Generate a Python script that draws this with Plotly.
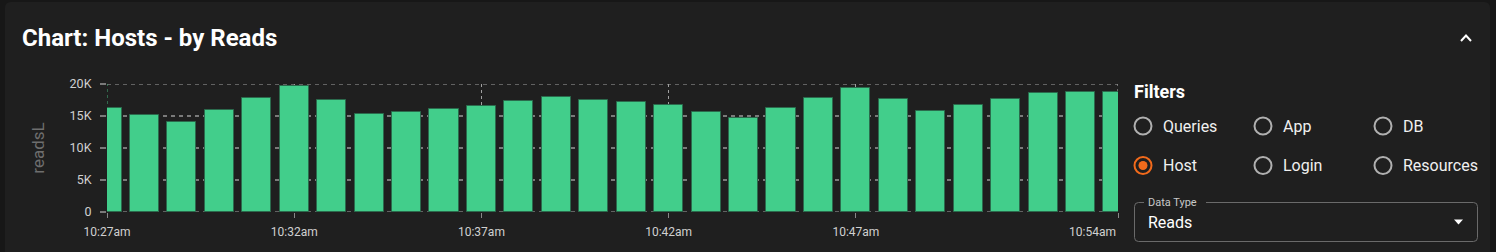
import plotly.graph_objects as go

# ---------------- data ----------------
times = ["10:27", "10:28", "10:29", "10:30", "10:31", "10:32", "10:33", "10:34",
         "10:35", "10:36", "10:37", "10:38", "10:39", "10:40", "10:41", "10:42",
         "10:43", "10:44", "10:45", "10:46", "10:47", "10:48", "10:49", "10:50",
         "10:51", "10:52", "10:53", "10:54"]
reads = [16240, 15140, 13990, 15870, 17750, 19690, 17440, 15250,
         15670, 16080, 16550, 17280, 17960, 17550, 17130, 16660,
         15670, 14620, 16240, 17860, 19430, 17600, 15720, 16710,
         17650, 18590, 18690, 18800]
tick_times = ["10:27", "10:32", "10:37", "10:42", "10:47", "10:54"]
tick_labels = ["10:27am", "10:32am", "10:37am", "10:42am", "10:47am", "10:54am"]
y_ticks = [0, 5000, 10000, 15000, 20000]
y_tick_labels = ["0", "5K", "10K", "15K", "20K"]

filter_options = [["Queries", "App", "DB"], ["Host", "Login", "Resources"]]
selected_filter = "Host"

# ---------------- layout constants ----------------
W, H = 1496, 252
L, R, T, B = 107, 1118, 84, 212
FONT = "Roboto"
BG_OUT = "#171717"
BG_PANEL = "#1f1f1f"
BAR = "#42CE8B"
BAR_LINE = "#2b6b4d"
ORANGE = "#F26A1B"
HGRID = "#7a7a7a"
VGRID = "#a0a0a0"


def to_min(t):
    h, m = t.split(":")
    return int(h) * 60 + int(m)


base = to_min(times[0])
xs = [to_min(t) - base for t in times]
tick_x = [to_min(t) - base for t in tick_times]
x_lo, x_hi = tick_x[0], tick_x[-1]
y_lo, y_hi = y_ticks[0], y_ticks[-1]


def px(x):
    return (x - L) / (R - L)


def py(y):
    return (B - y) / (B - T)


fig = go.Figure()
fig.add_trace(go.Bar(
    x=xs, y=reads, width=0.78,
    marker=dict(color=BAR, line=dict(color=BAR_LINE, width=1)),
    hoverinfo="skip",
))

shapes = []
annotations = []


def rrect(x0, y0, x1, y1, r):
    p = (f"M {px(x0 + r)},{py(y0)} L {px(x1 - r)},{py(y0)} Q {px(x1)},{py(y0)} {px(x1)},{py(y0 + r)} "
         f"L {px(x1)},{py(y1 - r)} Q {px(x1)},{py(y1)} {px(x1 - r)},{py(y1)} "
         f"L {px(x0 + r)},{py(y1)} Q {px(x0)},{py(y1)} {px(x0)},{py(y1 - r)} "
         f"L {px(x0)},{py(y0 + r)} Q {px(x0)},{py(y0)} {px(x0 + r)},{py(y0)} Z")
    return p


shapes.append(dict(type="path", xref="paper", yref="paper", path=rrect(5, 2, 1490, 262, 6),
                   fillcolor=BG_PANEL, line=dict(width=0), layer="below"))

# edge gridlines (plotly omits grid lines lying on the range ends)
for yv in (y_lo, y_hi):
    shapes.append(dict(type="line", xref="x", yref="y", x0=x_lo, x1=x_hi, y0=yv, y1=yv,
                       line=dict(color=HGRID, width=1.6, dash="4px,4px"), layer="below"))
shapes.append(dict(type="line", xref="x", yref="y", x0=x_lo, x1=x_lo, y0=y_lo, y1=y_hi,
                   line=dict(color="#3f9a6c", width=1.2, dash="3px,3px"), layer="below"))
shapes.append(dict(type="line", xref="x", yref="y", x0=x_hi, x1=x_hi, y0=y_lo, y1=y_hi,
                   line=dict(color=VGRID, width=1.2, dash="3px,3px"), layer="below"))

# title
annotations.append(dict(text="<b>Chart: Hosts - by Reads</b>", xref="paper", yref="paper",
                        x=px(20), y=py(38), xanchor="left", yanchor="middle", showarrow=False,
                        font=dict(family=FONT, size=24, color="#ffffff")))
# chevron
shapes.append(dict(type="path", xref="paper", yref="paper",
                   path=f"M {px(1461)},{py(41)} L {px(1466)},{py(35.5)} L {px(1471)},{py(41)}",
                   line=dict(color="#ffffff", width=2)))

# last x tick label (right aligned to plot edge)
annotations.append(dict(text=tick_labels[-1], xref="x", yref="paper", x=tick_x[-1], y=py(232),
                        xanchor="right", yanchor="middle", showarrow=False,
                        font=dict(family=FONT, size=12, color="#d0d0d0")))

# Filters
annotations.append(dict(text="<b>Filters</b>", xref="paper", yref="paper", x=px(1132), y=py(91),
                        xanchor="left", yanchor="middle", showarrow=False,
                        font=dict(family=FONT, size=18, color="#ffffff")))
col_x = [1143, 1263, 1383]
row_y = [126, 165.5]
for ri, row in enumerate(filter_options):
    for ci, name in enumerate(row):
        cx, cy = col_x[ci], row_y[ri]
        sel = name == selected_filter
        r = 8.5
        shapes.append(dict(type="circle", xref="paper", yref="paper",
                           x0=px(cx - r), x1=px(cx + r), y0=py(cy + r), y1=py(cy - r),
                           line=dict(color=ORANGE if sel else "#b0b0b0", width=2),
                           fillcolor="rgba(0,0,0,0)"))
        if sel:
            r2 = 4.5
            shapes.append(dict(type="circle", xref="paper", yref="paper",
                               x0=px(cx - r2), x1=px(cx + r2), y0=py(cy + r2), y1=py(cy - r2),
                               line=dict(width=0), fillcolor=ORANGE))
        annotations.append(dict(text=name, xref="paper", yref="paper", x=px(cx + 18), y=py(cy),
                                xanchor="left", yanchor="middle", showarrow=False,
                                font=dict(family=FONT, size=16, color="#f0f0f0")))

# Data type select box
bx0, by0, bx1, by1, br = 1134.5, 202.5, 1477.5, 241.5, 4
gap0, gap1 = 1144, 1206
sel_path = (f"M {px(gap0)},{py(by0)} L {px(bx0 + br)},{py(by0)} Q {px(bx0)},{py(by0)} {px(bx0)},{py(by0 + br)} "
            f"L {px(bx0)},{py(by1 - br)} Q {px(bx0)},{py(by1)} {px(bx0 + br)},{py(by1)} "
            f"L {px(bx1 - br)},{py(by1)} Q {px(bx1)},{py(by1)} {px(bx1)},{py(by1 - br)} "
            f"L {px(bx1)},{py(by0 + br)} Q {px(bx1)},{py(by0)} {px(bx1 - br)},{py(by0)} L {px(gap1)},{py(by0)}")
shapes.append(dict(type="path", xref="paper", yref="paper", path=sel_path,
                   line=dict(color="#6a6a6a", width=1)))
annotations.append(dict(text="Data Type", xref="paper", yref="paper", x=px(1146), y=py(202),
                        xanchor="left", yanchor="middle", showarrow=False,
                        font=dict(family=FONT, size=11, color="#c8c8c8")))
annotations.append(dict(text="Reads", xref="paper", yref="paper", x=px(1146), y=py(222),
                        xanchor="left", yanchor="middle", showarrow=False,
                        font=dict(family=FONT, size=16, color="#ffffff")))
shapes.append(dict(type="path", xref="paper", yref="paper",
                   path=f"M {px(1454)},{py(219.5)} L {px(1463)},{py(219.5)} L {px(1458.5)},{py(224.5)} Z",
                   fillcolor="#ffffff", line=dict(width=0)))

fig.update_layout(
    width=W, height=H,
    margin=dict(l=L, r=W - R, t=T, b=H - B, pad=0),
    paper_bgcolor=BG_OUT, plot_bgcolor="rgba(0,0,0,0)",
    showlegend=False, bargap=0,
    font=dict(family=FONT, size=12, color="#d0d0d0"),
    shapes=shapes, annotations=annotations,
    xaxis=dict(range=[x_lo, x_hi], tickvals=tick_x, ticktext=tick_labels[:-1] + [""],
               showgrid=True, gridcolor=VGRID, griddash="3px,3px", gridwidth=1.2,
               ticks="outside", ticklen=5, tickcolor="#888888", tickwidth=1,
               zeroline=False, showline=False, ticklabelstandoff=4,
               tickfont=dict(family=FONT, size=12, color="#d0d0d0"), fixedrange=True),
    yaxis=dict(range=[y_lo, y_hi], tickvals=y_ticks, ticktext=y_tick_labels,
               showgrid=True, gridcolor=HGRID, griddash="4px,4px", gridwidth=1.6,
               ticks="outside", ticklen=6, tickcolor=HGRID, tickwidth=1.5,
               zeroline=False, showline=False, ticklabelstandoff=6,
               tickfont=dict(family=FONT, size=12.5, color="#d0d0d0"),
               title=dict(text="readsL", font=dict(family=FONT, size=17, color="#6e6e6e"), standoff=20),
               fixedrange=True),
)

fig.write_html("out.html", config={"displayModeBar": False})
